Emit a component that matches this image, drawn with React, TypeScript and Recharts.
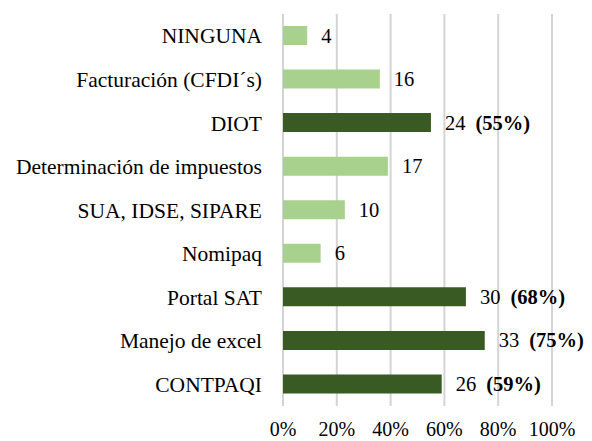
import React from "react";
import { BarChart, Bar, XAxis, YAxis, CartesianGrid, Cell, LabelList } from "recharts";

const categories = [
  "NINGUNA",
  "Facturación (CFDI´s)",
  "DIOT",
  "Determinación de impuestos",
  "SUA, IDSE, SIPARE",
  "Nomipaq",
  "Portal SAT",
  "Manejo de excel",
  "CONTPAQI",
];
const counts = [4, 16, 24, 17, 10, 6, 30, 33, 26];
const percents = [9, 36, 55, 39, 23, 14, 68, 75, 59];
const percentLabels = ["", "", "(55%)", "", "", "", "(68%)", "(75%)", "(59%)"];
const highlighted = [false, false, true, false, false, false, true, true, true];
const xTicks = [0, 20, 40, 60, 80, 100];

const LIGHT = "#a9d18e";
const DARK = "#3a5a24";
const FONT = "Liberation Serif";

const data = categories.map((name, i) => ({
  name,
  value: percents[i],
  count: counts[i],
  pct: percentLabels[i],
}));

const renderLabel = (props: any) => {
  const { x, y, width, height, index } = props;
  const d = data[index];
  return (
    <text
      x={Number(x) + Number(width) + 14}
      y={Number(y) + Number(height) / 2}
      dominantBaseline="central"
      style={{ fontFamily: FONT, fontSize: 20.5 }}
      fill="#000"
    >
      <tspan>{d.count}</tspan>
      {d.pct ? (
        <tspan dx={10} fontWeight="bold">
          {d.pct}
        </tspan>
      ) : null}
    </text>
  );
};

export default function App() {
  return (
    <div
      style={{
        position: "absolute",
        left: 0,
        top: 0,
        width: 592,
        height: 441,
        background: "#fff",
        fontFamily: FONT,
      }}
    >
      <BarChart
        width={592}
        height={441}
        data={data}
        layout="vertical"
        margin={{ top: 14, right: 40, bottom: 0, left: 0 }}
        barCategoryGap="56%"
        style={{ fontFamily: FONT }}
      >
        <CartesianGrid horizontal={false} stroke="#d4d4d4" strokeWidth={2} />
        <XAxis
          type="number"
          domain={[0, 100]}
          ticks={xTicks}
          tickFormatter={(v: number) => `${v}%`}
          axisLine={false}
          tickLine={false}
          tickSize={0}
          tickMargin={16}
          height={35}
          interval={0}
          tick={{ style: { fontFamily: FONT }, fontSize: 20, fill: "#000" }}
        />
        <YAxis
          type="category"
          dataKey="name"
          width={283}
          axisLine={false}
          tickLine={false}
          tickSize={0}
          tickMargin={21}
          interval={0}
          tick={{ style: { fontFamily: FONT }, fontSize: 21.5, fill: "#000" }}
        />
        <Bar dataKey="value" barSize={19} isAnimationActive={false}>
          {data.map((d, i) => (
            <Cell key={d.name} fill={highlighted[i] ? DARK : LIGHT} />
          ))}
          <LabelList dataKey="count" content={renderLabel} />
        </Bar>
      </BarChart>
    </div>
  );
}
